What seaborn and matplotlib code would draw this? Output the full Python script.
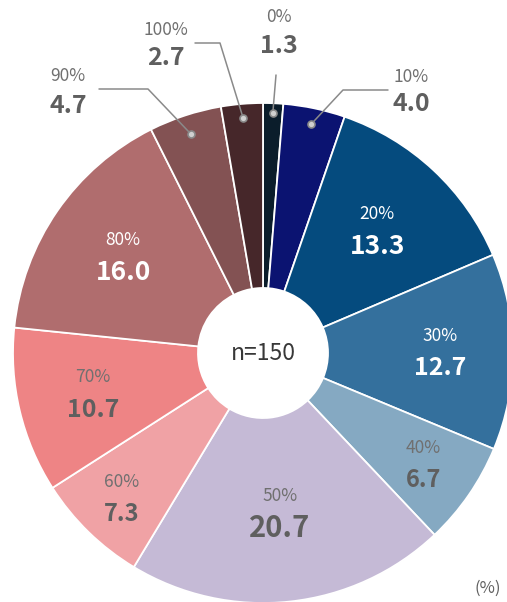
import numpy as np
import matplotlib
matplotlib.use("Agg")
import matplotlib.pyplot as plt
import seaborn as sns

# data
categories = ["0%", "10%", "20%", "30%", "40%", "50%", "60%", "70%", "80%", "90%", "100%"]
values = [1.3, 4.0, 13.3, 12.7, 6.7, 20.7, 7.3, 10.7, 16.0, 4.7, 2.7]
colors = ["#0b1d2b", "#0b1371", "#054b7e", "#34709d", "#85a9c2", "#c5bad6",
          "#f0a2a5", "#ee8485", "#b06d6e", "#835253", "#46272a"]
n_label = "n=150"

sns.set_style("white")
plt.rcParams["font.family"] = ["Noto Sans CJK JP", "DejaVu Sans"]

W, H = 507, 602
R = 250.0
CX, CY = 263, 353

def px(x, y):
    # pixel position -> data coords (radius 1 == R pixels)
    return (x - CX) / R, (CY - y) / R

fig = plt.figure(figsize=(W / 100, H / 100), dpi=100)
ax = fig.add_axes([0, 0, 1, 1])

wedges, _ = ax.pie(values, colors=colors, startangle=90, counterclock=False,
                   radius=1.0,
                   wedgeprops=dict(width=0.74, edgecolor="white", linewidth=1.3))

ax.set_xlim(-CX / R, (W - CX) / R)
ax.set_ylim(-(H - CY) / R, CY / R)
ax.set_aspect("equal")
ax.axis("off")

gray = "#5f5f5f"
light_gray = "#707070"
white_text = {"20%", "30%", "80%"}
inside_r = {"20%": 0.67, "30%": 0.71, "40%": 0.78, "50%": 0.64,
            "60%": 0.81, "70%": 0.70, "80%": 0.68}
inside_size = {"20%": 19, "30%": 18, "40%": 17, "50%": 21,
               "60%": 17, "70%": 18, "80%": 19}

for w, cat, v in zip(wedges, categories, values):
    ang = np.deg2rad((w.theta1 + w.theta2) / 2)
    if cat in inside_r:
        r = inside_r[cat]
        x, y = r * np.cos(ang), r * np.sin(ang)
        c1 = "white" if cat in white_text else light_gray
        c2 = "white" if cat in white_text else gray
        ax.text(x, y + 0.065, cat, ha="center", va="center", fontsize=12.5, color=c1)
        ax.text(x, y - 0.065, f"{v:.1f}", ha="center", va="center",
                fontsize=inside_size[cat], fontweight="bold", color=c2)

# outside labels: text position and leader-line elbow (pixels)
outside = {
    "0%": ((279, 17), (279, 46), [(276, 75)]),
    "10%": ((411, 77), (411, 104), [(388, 90), (343, 90)]),
    "90%": ((68, 76), (68, 106), [(99, 89), (148, 89)]),
    "100%": ((166, 30), (166, 58), [(195, 43), (220, 43)]),
}
dot_r = {"0%": 0.96, "10%": 0.935, "90%": 0.92, "100%": 0.945}

for w, cat, v in zip(wedges, categories, values):
    if cat not in outside:
        continue
    (tx1, ty1), (tx2, ty2), elbow = outside[cat]
    ang = np.deg2rad((w.theta1 + w.theta2) / 2)
    dx, dy = dot_r[cat] * np.cos(ang), dot_r[cat] * np.sin(ang)
    pts = [px(*p) for p in elbow] + [(dx, dy)]
    ax.plot([p[0] for p in pts], [p[1] for p in pts], color="#8a8a8a", lw=1.1,
            zorder=3)
    ax.plot(dx, dy, "o", ms=5, mfc="#d0d0d0", mec="#8a8a8a", mew=1.2, zorder=4)
    ax.text(*px(tx1, ty1), cat, ha="center", va="center", fontsize=12.5,
            color=light_gray)
    ax.text(*px(tx2, ty2), f"{v:.1f}", ha="center", va="center", fontsize=18,
            fontweight="bold", color=gray)

ax.text(0, 0, n_label, ha="center", va="center", fontsize=16.5, color="#383838")
ax.text(*px(488, 588), "(%)", ha="center", va="center", fontsize=12, color="#606060")

fig.savefig("out.png", dpi=100)
